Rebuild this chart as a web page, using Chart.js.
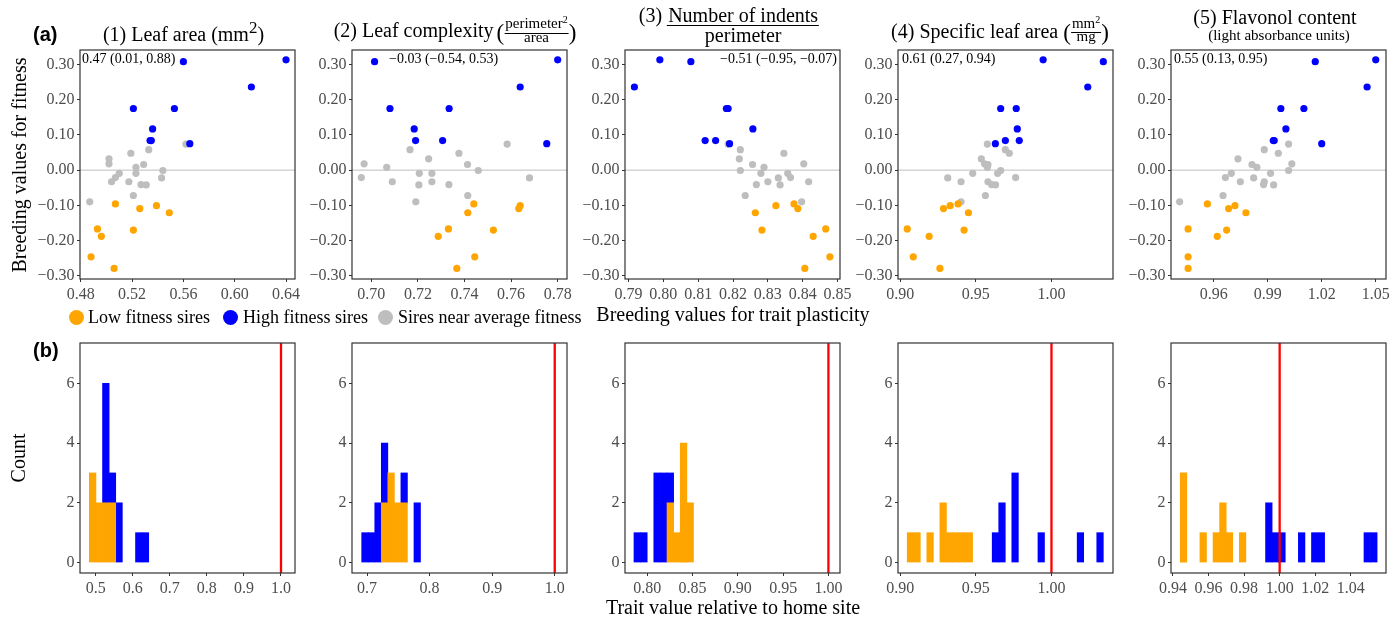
<!DOCTYPE html>
<html>
<head>
<meta charset="utf-8">
<script src="https://cdn.jsdelivr.net/npm/chart.js@4.4.1/dist/chart.umd.min.js"></script>
<style>
body { margin: 0; background: #fff; }
#wrap { position: relative; width: 1397px; height: 621px; overflow: hidden; font-family: 'Liberation Serif', 'Times New Roman', serif; color: #000; }
canvas { position: absolute; z-index: 1; }
.t { position: absolute; white-space: nowrap; line-height: 1; z-index: 2; }
.bold { font-family: 'Liberation Sans', Arial, sans-serif; font-weight: bold; font-size: 20px; }
.tt { position: absolute; top: 0; transform: translateX(-50%); display: flex; align-items: flex-start; line-height: 1; font-size: 20px; white-space: nowrap; z-index: 2; }
.frac { display: flex; flex-direction: column; align-items: center; }
.num { border-bottom: 1px solid #000; padding: 0 1px 1.5px; }
.sup { font-size: 10px; position: relative; top: -5px; }
.cor { font-size: 14px; top: 52.3px; }
.leg { font-size: 18px; top: 307.6px; }
.dot { position: absolute; width: 15px; height: 15px; border-radius: 50%; top: 309.5px; z-index: 2; }
.ax { font-size: 20px; transform: translate(-50%, -50%); }
</style>
</head>
<body>
<div id="wrap">
  <div class="t bold" style="left:33px;top:23.8px">(a)</div>
  <div class="t bold" style="left:33px;top:340px">(b)</div>

  <!-- panel titles -->
  <div class="tt" style="left:183.5px">
    <span style="margin-top:24.25px">(1) Leaf area (mm</span><span style="font-size:17px;margin-top:19.1px">2</span><span style="margin-top:24.25px">)</span>
  </div>
  <div class="tt" style="left:455px">
    <span style="margin-top:20.25px">(2) Leaf complexity</span>
    <span style="font-size:23px;margin-top:20.7px;margin-left:3px">(</span>
    <span class="frac" style="font-size:15px;margin-top:16.44px">
      <span class="num">perimeter<span class="sup">2</span></span>
      <span style="margin-top:-3.5px">area</span>
    </span>
    <span style="font-size:23px;margin-top:20.7px">)</span>
  </div>
  <div class="tt" style="left:729px">
    <span style="margin-top:5.25px;margin-right:5px">(3)</span>
    <span class="frac" style="font-size:20px;margin-top:5.25px">
      <span class="num" style="padding-bottom:0">Number of indents</span>
      <span style="margin-top:-1.3px">perimeter</span>
    </span>
  </div>
  <div class="tt" style="left:1000px">
    <span style="margin-top:20.55px">(4) Specific leaf area</span>
    <span style="font-size:23px;margin-top:20.7px;margin-left:5px">(</span>
    <span class="frac" style="font-size:15px;margin-top:15.7px">
      <span class="num">mm<span class="sup">2</span></span>
      <span style="margin-top:-4px">mg</span>
    </span>
    <span style="font-size:23px;margin-top:20.7px">)</span>
  </div>
  <div class="tt" style="left:1275px"><span style="margin-top:7.25px">(5) Flavonol content</span></div>
  <div class="tt" style="left:1279px"><span style="font-size:15px;margin-top:28.1px">(light absorbance units)</span></div>

  <!-- correlation estimates -->
  <div class="t cor" style="left:82px">0.47 (0.01, 0.88)</div>
  <div class="t cor" style="left:389px">−0.03 (−0.54, 0.53)</div>
  <div class="t cor" style="left:837px;transform:translateX(-100%)">−0.51 (−0.95, −0.07)</div>
  <div class="t cor" style="left:902px">0.61 (0.27, 0.94)</div>
  <div class="t cor" style="left:1174px">0.55 (0.13, 0.95)</div>

  <!-- axis titles -->
  <div class="t ax" style="left:18.5px;top:164.5px;transform:translate(-50%,-50%) rotate(-90deg)">Breeding values for fitness</div>
  <div class="t ax" style="left:17.5px;top:458px;transform:translate(-50%,-50%) rotate(-90deg)">Count</div>
  <div class="t" style="left:733px;top:304.25px;font-size:20px;transform:translateX(-50%)">Breeding values for trait plasticity</div>
  <div class="t" style="left:733px;top:597.25px;font-size:20px;transform:translateX(-50%)">Trait value relative to home site</div>

  <!-- legend -->
  <div class="dot" style="left:68.5px;background:#FFA500"></div>
  <div class="t leg" style="left:88px">Low fitness sires</div>
  <div class="dot" style="left:222.5px;background:#0000FF"></div>
  <div class="t leg" style="left:243px">High fitness sires</div>
  <div class="dot" style="left:378px;background:#BEBEBE"></div>
  <div class="t leg" style="left:398px">Sires near average fitness</div>
</div>

<script>
// Breeding values for fitness (shared by every trait)
const highY = [0.313, 0.308, 0.236, 0.175, 0.175, 0.117, 0.084, 0.084, 0.075];
const lowY = [-0.096, -0.101, -0.109, -0.121, -0.167, -0.170, -0.188, -0.246, -0.279];
const avgY = [0.074, 0.058, 0.048, 0.032, 0.018, 0.016, 0.008, -0.001, -0.009, -0.009,
              -0.021, -0.022, -0.033, -0.033, -0.041, -0.042, -0.072, -0.090];

// Breeding values for trait plasticity, one array per trait and group
const areaHighX = [0.640, 0.560, 0.613, 0.521, 0.553, 0.536, 0.534, 0.535, 0.565];
const areaLowX = [0.507, 0.539, 0.526, 0.549, 0.493, 0.521, 0.496, 0.488, 0.506];
const areaAvgX = [0.562, 0.533, 0.519, 0.502, 0.502, 0.529, 0.523, 0.544, 0.523, 0.510,
                  0.507, 0.543, 0.5175, 0.504, 0.527, 0.531, 0.521, 0.487];

const complexHighX = [0.780, 0.7014, 0.7639, 0.708, 0.7334, 0.7184, 0.719, 0.7306, 0.7753];
const complexLowX = [0.744, 0.7639, 0.7633, 0.7414, 0.7331, 0.7524, 0.7287, 0.7444, 0.7367];
const complexAvgX = [0.7583, 0.7166, 0.7376, 0.7246, 0.6969, 0.7413, 0.7066, 0.7459, 0.7206, 0.726,
                     0.6957, 0.7679, 0.709, 0.726, 0.7333, 0.7204, 0.7414, 0.7191];

const indentHighX = [0.799, 0.8079, 0.7917, 0.8181, 0.8186, 0.8257, 0.812, 0.815, 0.819];
const indentLowX = [0.8375, 0.8323, 0.8386, 0.8264, 0.8466, 0.8283, 0.843, 0.8478, 0.8406];
const indentAvgX = [0.8186, 0.8221, 0.8346, 0.8218, 0.8403, 0.8256, 0.8289, 0.8221, 0.828, 0.8357,
                    0.8365, 0.833, 0.83, 0.8417, 0.8267, 0.8335, 0.8235, 0.8397];

const slaHighX = [0.9945, 1.0343, 1.024, 0.9664, 0.9767, 0.9774, 0.9695, 0.9787, 0.9629];
const slaLowX = [0.9382, 0.933, 0.9286, 0.9451, 0.9046, 0.9422, 0.9191, 0.9086, 0.9262];
const slaAvgX = [0.9576, 0.9695, 0.9721, 0.9536, 0.9558, 0.958, 0.9576, 0.9664, 0.9479, 0.9644,
                 0.9763, 0.9314, 0.9402, 0.958, 0.9604, 0.963, 0.9563, 0.9402];

const flavHighX = [1.050, 1.0164, 1.0452, 0.9973, 1.0101, 1.0001, 0.9931, 0.9936, 1.020];
const flavLowX = [0.9565, 0.9718, 0.9683, 0.9779, 0.9458, 0.9672, 0.962, 0.9458, 0.9458];
const flavAvgX = [1.0016, 0.9881, 0.9959, 0.9735, 1.0034, 0.9813, 0.984, 1.0016, 0.9698, 0.9916,
                  0.9665, 0.9822, 0.9748, 0.9881, 0.9877, 0.9933, 0.9652, 0.9411];

// Histogram bins (trait value relative to home site)
const areaBins = { start: 0.4829, width: 0.0178 };
const areaLowCount = [3, 2, 2, 2, 0, 0, 0, 0, 0];
const areaHighCount = [0, 0, 4, 1, 2, 0, 0, 1, 1];

const complexBins = { start: 0.6915, width: 0.01044 };
const complexLowCount = [0, 0, 0, 2, 3, 2, 2, 0, 0];
const complexHighCount = [1, 1, 2, 2, 0, 0, 1, 0, 2];

const indentBins = { start: 0.7853, width: 0.0073 };
const indentLowCount = [0, 0, 0, 0, 0, 2, 1, 4, 2];
const indentHighCount = [1, 1, 0, 3, 3, 1, 0, 0, 0];

const slaBins = { start: 0.9046, width: 0.004323 };
const slaLowCount = [1, 1, 0, 1, 0, 2, 1, 1, 1, 1, 0, 0, 0, 0, 0, 0, 0, 0, 0, 0, 0, 0, 0, 0, 0, 0, 0, 0, 0, 0];
const slaHighCount = [0, 0, 0, 0, 0, 0, 0, 0, 0, 0, 0, 0, 0, 1, 2, 0, 3, 0, 0, 0, 1, 0, 0, 0, 0, 0, 1, 0, 0, 1];

const flavBins = { start: 0.9441, width: 0.00369 };
const flavLowCount = [3, 0, 0, 1, 0, 1, 2, 1, 0, 1, 0, 0, 0, 0, 0, 0, 0, 0, 0, 0, 0, 0, 0, 0, 0, 0, 0, 0, 0, 0];
const flavHighCount = [0, 0, 0, 0, 0, 0, 0, 0, 0, 0, 0, 0, 0, 2, 1, 1, 0, 0, 1, 0, 1, 1, 0, 0, 0, 0, 0, 0, 1, 1];

// Tick labels
const fitnessTicks = [-0.3, -0.2, -0.1, 0, 0.1, 0.2, 0.3];
const countTicks = [0, 2, 4, 6];
const areaTicks = [0.48, 0.52, 0.56, 0.60, 0.64];
const complexTicks = [0.70, 0.72, 0.74, 0.76, 0.78];
const indentTicks = [0.79, 0.80, 0.81, 0.82, 0.83, 0.84, 0.85];
const slaTicks = [0.90, 0.95, 1.00];
const flavTicks = [0.96, 0.99, 1.02, 1.05];
const areaHistTicks = [0.5, 0.6, 0.7, 0.8, 0.9, 1.0];
const complexHistTicks = [0.7, 0.8, 0.9, 1.0];
const indentHistTicks = [0.80, 0.85, 0.90, 0.95, 1.00];
const slaHistTicks = [0.90, 0.95, 1.00];
const flavHistTicks = [0.94, 0.96, 0.98, 1.00, 1.02, 1.04];

const homeValue = 1.0;

const traits = [
    { highX: areaHighX, lowX: areaLowX, avgX: areaAvgX, xMin: 0.4794, xMax: 0.647, xTicks: areaTicks, dec: 2,
      bins: areaBins, lowCount: areaLowCount, highCount: areaHighCount, hMin: 0.4577, hMax: 1.0378, hTicks: areaHistTicks, hDec: 1 },
    { highX: complexHighX, lowX: complexLowX, avgX: complexAvgX, xMin: 0.6917, xMax: 0.784, xTicks: complexTicks, dec: 2,
      bins: complexBins, lowCount: complexLowCount, highCount: complexHighCount, hMin: 0.676, hMax: 1.0196, hTicks: complexHistTicks, hDec: 1 },
    { highX: indentHighX, lowX: indentLowX, avgX: indentAvgX, xMin: 0.7890, xMax: 0.8507, xTicks: indentTicks, dec: 2,
      bins: indentBins, lowCount: indentLowCount, highCount: indentHighCount, hMin: 0.7754, hMax: 1.0128, hTicks: indentHistTicks, hDec: 2 },
    { highX: slaHighX, lowX: slaLowX, avgX: slaAvgX, xMin: 0.8985, xMax: 1.0407, xTicks: slaTicks, dec: 2,
      bins: slaBins, lowCount: slaLowCount, highCount: slaHighCount, hMin: 0.8985, hMax: 1.0407, hTicks: slaHistTicks, hDec: 2 },
    { highX: flavHighX, lowX: flavLowX, avgX: flavAvgX, xMin: 0.9363, xMax: 1.0557, xTicks: flavTicks, dec: 2,
      bins: flavBins, lowCount: flavLowCount, highCount: flavHighCount, hMin: 0.9389, hMax: 1.0598, hTicks: flavHistTicks, hDec: 2 }
];

// Layout of the plotting panels
const plotLeft = [80, 352, 625, 898, 1171];
const PW = 215, TOP_Y = 50, TOP_H = 229, BOT_Y = 343, BOT_H = 230;
const YW = 62, PT = 12, PR = 24, XH = 30;

const ORANGE = '#FFA500', BLUE = '#0000FF', GREY = '#BEBEBE';

Chart.defaults.font.family = "'Liberation Serif', 'Times New Roman', serif";
Chart.defaults.font.size = 16;
Chart.defaults.color = '#4D4D4D';

const wrap = document.getElementById('wrap');

function fmt(v, dec) {
    return v.toFixed(dec).replace('-', '\u2212');
}

function addCanvas(left, top, w, h) {
    const c = document.createElement('canvas');
    c.width = w;
    c.height = h;
    c.style.left = left + 'px';
    c.style.top = top + 'px';
    c.style.width = w + 'px';
    c.style.height = h + 'px';
    wrap.appendChild(c);
    return c;
}

// Panel border drawn over the data
const framePlugin = {
    id: 'frame',
    afterDatasetsDraw(chart) {
        const a = chart.chartArea;
        const ctx = chart.ctx;
        ctx.save();
        ctx.strokeStyle = '#333333';
        ctx.lineWidth = 1.2;
        ctx.strokeRect(a.left, a.top, a.right - a.left, a.bottom - a.top);
        ctx.restore();
    }
};

function axis(min, max, ticks, dec, isX) {
    return {
        type: 'linear',
        min: min,
        max: max,
        offset: false,
        stacked: true,
        grid: { display: true, drawOnChartArea: false, drawTicks: true, tickLength: 3,
                tickColor: '#333333', color: '#333333', lineWidth: 1, offset: false },
        border: { display: false },
        ticks: { autoSkip: false, maxRotation: 0, minRotation: 0, padding: isX ? 3 : 2.5,
                 callback: v => fmt(v, dec) },
        afterBuildTicks: s => { s.ticks = ticks.map(v => ({ value: v })); },
        afterFit: s => {
            if (isX) s.height = XH; else s.width = YW;
            s.paddingLeft = s.paddingRight = s.paddingTop = s.paddingBottom = 0;
        }
    };
}

function baseOptions(xScale, yScale) {
    return {
        responsive: false,
        animation: false,
        devicePixelRatio: 1,
        layout: { autoPadding: false, padding: { left: 0, top: PT, right: PR, bottom: 0 } },
        plugins: { legend: { display: false }, tooltip: { enabled: false } },
        scales: { x: xScale, y: yScale }
    };
}

function pointSet(xs, ys, colour) {
    return {
        data: xs.map((x, k) => ({ x: x, y: ys[k] })),
        pointRadius: 3.6,
        pointBorderWidth: 0,
        pointBackgroundColor: colour,
        pointBorderColor: colour
    };
}

// Top row: fitness vs plasticity
function scatterPanel(i) {
    const p = traits[i];
    const c = addCanvas(plotLeft[i] - YW, TOP_Y - PT, YW + PW + PR, PT + TOP_H + XH);
    const xs = axis(p.xMin, p.xMax, p.xTicks, p.dec, true);
    const ys = axis(-0.309, 0.341, fitnessTicks, 2, false);
    xs.stacked = false;
    ys.stacked = false;
    new Chart(c, {
        type: 'scatter',
        data: {
            datasets: [
                pointSet(p.highX, highY, BLUE),
                pointSet(p.lowX, lowY, ORANGE),
                pointSet(p.avgX, avgY, GREY),
                { type: 'line', data: [{ x: p.xMin, y: 0 }, { x: p.xMax, y: 0 }],
                  borderColor: GREY, borderWidth: 1, pointRadius: 0 }
            ]
        },
        options: baseOptions(xs, ys),
        plugins: [framePlugin]
    });
}

// Bottom row: stacked histograms of the extreme sires
function histPanel(i) {
    const p = traits[i];
    const c = addCanvas(plotLeft[i] - YW, BOT_Y - PT, YW + PW + PR, PT + BOT_H + XH);
    const centres = p.lowCount.map((n, k) => p.bins.start + p.bins.width * (k + 0.5));
    const bars = (counts, colour) => ({
        type: 'bar',
        data: counts.map((n, k) => ({ x: centres[k], y: n })),
        backgroundColor: colour,
        borderWidth: 0,
        barPercentage: 1,
        categoryPercentage: 1,
        // empty bins must stay invisible
        inflateAmount: ctx => (ctx.raw && ctx.raw.y > 0 ? 0.33 : 0)
    });
    new Chart(c, {
        type: 'bar',
        data: {
            datasets: [
                { type: 'line', stack: 'home', data: [{ x: homeValue, y: -0.35 }, { x: homeValue, y: 7.35 }],
                  borderColor: '#FF0000', borderWidth: 2.3, pointRadius: 0 },
                bars(p.lowCount, ORANGE),
                bars(p.highCount, BLUE)
            ]
        },
        options: baseOptions(axis(p.hMin, p.hMax, p.hTicks, p.hDec, true),
                             axis(-0.35, 7.35, countTicks, 0, false)),
        plugins: [framePlugin]
    });
}

for (let i = 0; i < traits.length; i++) {
    scatterPanel(i);
    histPanel(i);
}
</script>
</body>
</html>
